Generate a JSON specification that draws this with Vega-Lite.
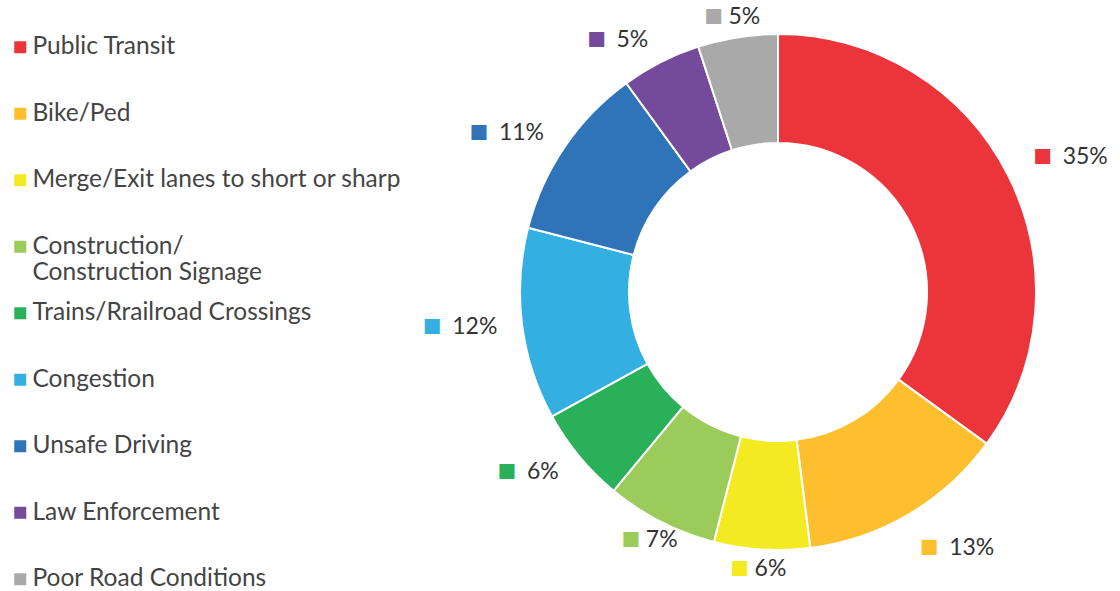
{
  "$schema": "https://vega.github.io/schema/vega-lite/v6.json",
  "width": 516,
  "height": 516,
  "autosize": {"type": "none"},
  "padding": {"left": 520, "top": 34, "right": 84, "bottom": 41},
  "background": "white",
  "config": {"view": {"stroke": null}, "font": "Lato"},
  "data": {
    "values": [
      {"category": "Public Transit", "value": 35, "label": "35%", "order": 1},
      {"category": "Bike/Ped", "value": 13, "label": "13%", "order": 2},
      {"category": "Merge/Exit lanes to short or sharp", "value": 6, "label": "6%", "order": 3},
      {"category": "Construction/Construction Signage", "value": 7, "label": "7%", "order": 4},
      {"category": "Trains/Rrailroad Crossings", "value": 6, "label": "6%", "order": 5},
      {"category": "Congestion", "value": 12, "label": "12%", "order": 6},
      {"category": "Unsafe Driving", "value": 11, "label": "11%", "order": 7},
      {"category": "Law Enforcement", "value": 5, "label": "5%", "order": 8},
      {"category": "Poor Road Conditions", "value": 5, "label": "5%", "order": 9}
    ]
  },
  "encoding": {
    "theta": {"field": "value", "type": "quantitative", "stack": true},
    "order": {"field": "order", "type": "quantitative"}
  },
  "layer": [
    {
      "mark": {"type": "arc", "innerRadius": 149, "outerRadius": 258, "stroke": "white", "strokeWidth": 2},
      "encoding": {
        "color": {
          "field": "category",
          "type": "nominal",
          "sort": null,
          "scale": {
            "domain": ["Public Transit", "Bike/Ped", "Merge/Exit lanes to short or sharp", "Construction/Construction Signage", "Trains/Rrailroad Crossings", "Congestion", "Unsafe Driving", "Law Enforcement", "Poor Road Conditions"],
            "range": ["#ec353b", "#fdbf2d", "#f3ea22", "#9bcb5a", "#2bb05a", "#33afe2", "#2f74b9", "#744a9a", "#a9a9a9"]
          },
          "legend": {
            "title": null,
            "orient": "none",
            "legendX": -512,
            "legendY": 1,
            "symbolType": "square",
            "symbolSize": 144,
            "symbolStrokeWidth": 0,
            "labelFont": "Lato",
            "labelFontSize": 24.5,
            "labelColor": "#444444",
            "labelOffset": 0,
            "labelLimit": 500,
            "rowPadding": 14.5,
            "labelExpr": "datum.label == 'Construction/Construction Signage' ? ['Construction/', 'Construction Signage'] : [datum.label, ' ']"
          }
        }
      }
    },
    {
      "mark": {
        "type": "text",
        "text": "■",
        "fontSize": 31,
        "radius": {"expr": "((datum.value_start + datum.value_end) / 200 < 0.02 || (datum.value_start + datum.value_end) / 200 > 0.96 || abs((datum.value_start + datum.value_end) / 200 - 0.5) < 0.08) ? 278 : ((datum.value_start + datum.value_end) / 200 < 0.5 ? 297 : 283)"},
        "dx": {"expr": "((datum.value_start + datum.value_end) / 200 < 0.02 || (datum.value_start + datum.value_end) / 200 > 0.96 || abs((datum.value_start + datum.value_end) / 200 - 0.5) < 0.08) ? (6 - (30 + 12 * length(datum.label)) / 2) : ((datum.value_start + datum.value_end) / 200 < 0.5 ? 0 : (-29 - 12 * length(datum.label)))"}
      },
      "encoding": {
        "color": {"field": "category", "type": "nominal", "sort": null, "legend": null}
      }
    },
    {
      "mark": {
        "type": "text",
        "align": "left",
        "fontSize": 23,
        "font": "Lato",
        "radius": {"expr": "((datum.value_start + datum.value_end) / 200 < 0.02 || (datum.value_start + datum.value_end) / 200 > 0.96 || abs((datum.value_start + datum.value_end) / 200 - 0.5) < 0.08) ? 278 : ((datum.value_start + datum.value_end) / 200 < 0.5 ? 297 : 283)"},
        "dx": {"expr": "((datum.value_start + datum.value_end) / 200 < 0.02 || (datum.value_start + datum.value_end) / 200 > 0.96 || abs((datum.value_start + datum.value_end) / 200 - 0.5) < 0.08) ? (21 - (30 + 12 * length(datum.label)) / 2) : ((datum.value_start + datum.value_end) / 200 < 0.5 ? 20 : (-9 - 12 * length(datum.label)))"}
      },
      "encoding": {
        "text": {"field": "label"},
        "color": {"value": "#333333"}
      }
    }
  ]
}
